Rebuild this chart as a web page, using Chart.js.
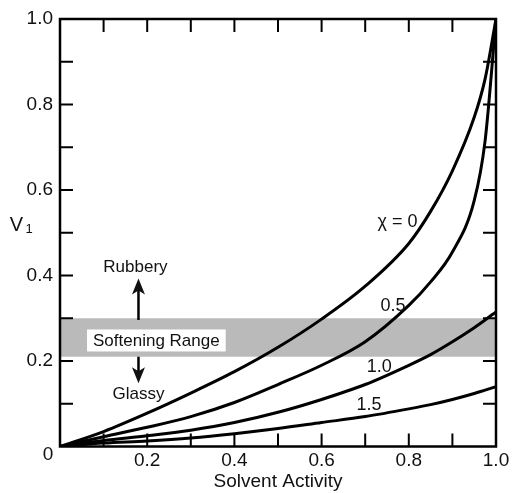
<!DOCTYPE html>
<html>
<head>
<meta charset="utf-8">
<script src="https://cdn.jsdelivr.net/npm/chart.js@4.4.1/dist/chart.umd.min.js"></script>
<style>
  html, body { margin: 0; padding: 0; background: #fff; }
  #wrap { width: 513px; height: 493px; }
</style>
</head>
<body>
<div id="wrap"><canvas id="chart"></canvas></div>
<script>
// values
const activity = [0, 0.1, 0.2, 0.3, 0.4, 0.5, 0.6, 0.7, 0.8, 0.85, 0.9, 0.95, 0.975, 1.0];
const chi0  = [0, 0.035, 0.078, 0.125, 0.175, 0.232, 0.298, 0.375, 0.475, 0.55, 0.645, 0.77, 0.86, 1.0];
const chi05 = [0, 0.023, 0.045, 0.07, 0.103, 0.145, 0.19, 0.245, 0.33, 0.385, 0.455, 0.575, 0.715, 1.0];
const chi10 = [0, 0.014, 0.025, 0.038, 0.056, 0.08, 0.11, 0.145, 0.19, 0.215, 0.245, 0.278, 0.296, 0.315];
const chi15 = [0, 0.008, 0.013, 0.02, 0.03, 0.042, 0.056, 0.07, 0.088, 0.098, 0.11, 0.124, 0.132, 0.14];
const curveNames = ['χ = 0', '0.5', '1.0', '1.5'];

const softeningRange = [0.21, 0.30];
const axisTicks = [0, 0.2, 0.4, 0.6, 0.8, 1.0];
const tickLabels = ['0', '0.2', '0.4', '0.6', '0.8', '1.0'];
const minorTicks = [0.1, 0.2, 0.3, 0.4, 0.5, 0.6, 0.7, 0.8, 0.9];

const FONT = "'Liberation Sans', Arial, Helvetica, sans-serif";
const INK = '#111';

function pts(ys) {
  return activity.map((a, i) => ({ x: a, y: ys[i] }));
}

// where the curve labels sit (data coords)
const curveLabelPos = [[0.774, 0.526], [0.764, 0.329], [0.732, 0.187], [0.709, 0.097]];

const decor = {
  id: 'decor',
  beforeDatasetsDraw(chart) {
    const { ctx, chartArea: ca, scales: { x, y } } = chart;
    ctx.save();
    const yt = y.getPixelForValue(softeningRange[1]);
    const yb = y.getPixelForValue(softeningRange[0]);
    ctx.fillStyle = '#bababa';
    ctx.fillRect(ca.left, yt, ca.right - ca.left, yb - yt);
    ctx.restore();
  },
  afterDraw(chart) {
    const { ctx, chartArea: ca, scales: { x, y } } = chart;
    ctx.save();
    ctx.strokeStyle = '#000';
    ctx.fillStyle = INK;

    // frame
    ctx.lineWidth = 2.5;
    ctx.strokeRect(ca.left, ca.top, ca.right - ca.left, ca.bottom - ca.top);

    // inward ticks on all four sides
    ctx.lineWidth = 2;
    const len = 13;
    ctx.beginPath();
    minorTicks.forEach(t => {
      const px = x.getPixelForValue(t), py = y.getPixelForValue(t);
      ctx.moveTo(px, ca.bottom); ctx.lineTo(px, ca.bottom - len);
      ctx.moveTo(px, ca.top); ctx.lineTo(px, ca.top + len);
      ctx.moveTo(ca.left, py); ctx.lineTo(ca.left + len, py);
      ctx.moveTo(ca.right, py); ctx.lineTo(ca.right - len, py);
    });
    ctx.stroke();

    ctx.textAlign = 'center';
    ctx.textBaseline = 'middle';

    // shared origin label
    ctx.font = '19px ' + FONT;
    ctx.fillText(tickLabels[0], ca.left - 12, ca.bottom + 8);

    // V1 axis label
    const vy = y.getPixelForValue(0.518);
    ctx.font = '20px ' + FONT;
    ctx.fillText('V', 16.5, vy);
    ctx.font = '13px ' + FONT;
    ctx.fillText('1', 29, vy + 4);

    // curve labels
    ctx.font = '18px ' + FONT;
    curveNames.forEach((n, i) => {
      const [lx, ly] = curveLabelPos[i];
      ctx.fillText(n, x.getPixelForValue(lx), y.getPixelForValue(ly));
    });

    // softening range label on white box
    ctx.font = '17px ' + FONT;
    const sx = x.getPixelForValue(0.221), sy = y.getPixelForValue(0.248);
    const w = ctx.measureText('Softening Range').width + 12;
    ctx.fillStyle = '#fff';
    ctx.fillRect(sx - w / 2, sy - 11, w, 22);
    ctx.fillStyle = INK;
    ctx.fillText('Softening Range', sx, sy + 1);

    // rubbery / glassy
    const ax = x.getPixelForValue(0.18);
    ctx.fillText('Rubbery', x.getPixelForValue(0.173), y.getPixelForValue(0.42));
    ctx.fillText('Glassy', x.getPixelForValue(0.18), y.getPixelForValue(0.121));

    function arrow(y0, y1) {
      const p0 = y.getPixelForValue(y0), p1 = y.getPixelForValue(y1);
      const dir = p1 < p0 ? 1 : -1;
      const head = 16;
      ctx.lineWidth = 2.5;
      ctx.beginPath();
      ctx.moveTo(ax, p0);
      ctx.lineTo(ax, p1 + dir * head * 0.6);
      ctx.stroke();
      ctx.beginPath();
      ctx.moveTo(ax, p1);
      ctx.lineTo(ax - 6.5, p1 + dir * head);
      ctx.lineTo(ax, p1 + dir * head * 0.75);
      ctx.lineTo(ax + 6.5, p1 + dir * head);
      ctx.closePath();
      ctx.fill();
    }
    arrow(0.296, 0.393);
    arrow(0.21, 0.148);

    ctx.restore();
  }
};

const lineStyle = {
  borderColor: '#000',
  borderWidth: 3,
  pointRadius: 0,
  fill: false,
  cubicInterpolationMode: 'monotone'
};

new Chart(document.getElementById('chart'), {
  type: 'line',
  data: {
    datasets: [
      { label: curveNames[0], data: pts(chi0), ...lineStyle },
      { label: curveNames[1], data: pts(chi05), ...lineStyle },
      { label: curveNames[2], data: pts(chi10), ...lineStyle },
      { label: curveNames[3], data: pts(chi15), ...lineStyle }
    ]
  },
  options: {
    responsive: true,
    maintainAspectRatio: false,
    animation: false,
    devicePixelRatio: 1,
    layout: { padding: { top: 19, right: 17, left: 0, bottom: 0 } },
    plugins: { legend: { display: false }, tooltip: { enabled: false } },
    scales: {
      x: {
        type: 'linear',
        min: 0,
        max: 1,
        afterBuildTicks: s => { s.ticks = axisTicks.map(v => ({ value: v })); },
        afterFit: s => { s.height = 46.5; },
        ticks: {
          callback: (v, i) => (i === 0 ? '' : tickLabels[i]),
          font: { size: 19, family: FONT },
          color: INK,
          padding: 3,
          maxRotation: 0
        },
        grid: { display: false, drawTicks: false },
        border: { display: false },
        title: {
          display: true,
          text: 'Solvent Activity',
          font: { size: 19, family: FONT },
          color: INK,
          padding: { top: 0, bottom: 0 }
        }
      },
      y: {
        type: 'linear',
        min: 0,
        max: 1,
        afterBuildTicks: s => { s.ticks = axisTicks.map(v => ({ value: v })); },
        afterFit: s => { s.width = 60; },
        ticks: {
          callback: (v, i) => (i === 0 ? '' : tickLabels[i]),
          font: { size: 19, family: FONT },
          color: INK,
          padding: 7
        },
        grid: { display: false, drawTicks: false },
        border: { display: false }
      }
    }
  },
  plugins: [decor]
});
</script>
</body>
</html>
